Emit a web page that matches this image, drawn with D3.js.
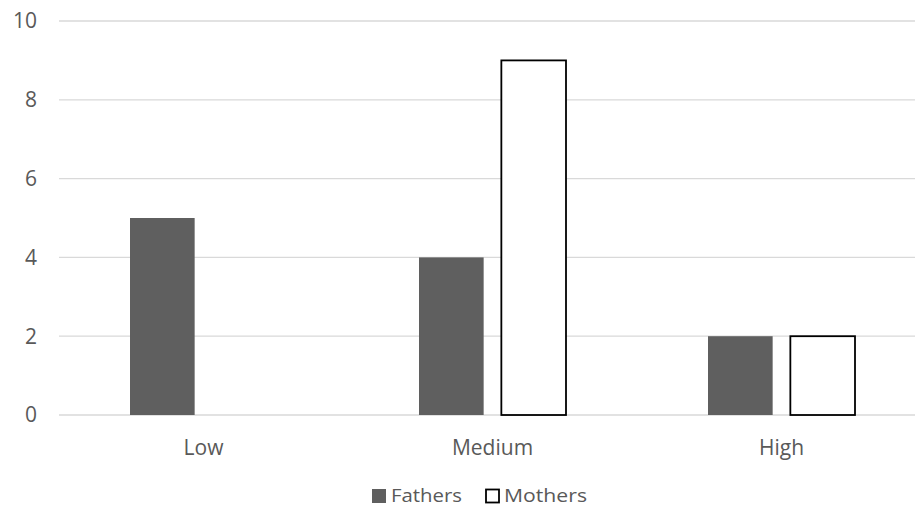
<!DOCTYPE html>
<html><head><meta charset="utf-8">
<script src="https://cdn.jsdelivr.net/npm/d3@7"></script>
<style>body{margin:0;background:#fff;overflow:hidden}svg{display:block}text{font-family:"Open Sans",sans-serif;fill:#595959}</style>
</head><body><svg id="c" width="915" height="508"></svg>
<script>
const categories = ["Low", "Medium", "High"];
const seriesNames = ["Fathers", "Mothers"];
const fathers = [5, 4, 2];
const mothers = [0, 9, 2];
const yTicks = [0, 2, 4, 6, 8, 10];

(function () {
const svg = d3.select("#c");
const mLeft = 59, mRight = 926, mTop = 21, mBottom = 415;
const x = d3.scaleBand().domain(categories).range([mLeft, mRight]).paddingInner(0).paddingOuter(0);
const y = d3.scaleLinear().domain([0, 10]).range([mBottom, mTop]);
const pairW = 147;
const sub = d3.scaleBand().domain(seriesNames).range([0, pairW]).paddingInner(0.215).paddingOuter(0);
const offset = (x.bandwidth() - pairW) / 2;

svg.append("g").selectAll("line").data(yTicks).join("line")
  .attr("x1", mLeft).attr("x2", mRight)
  .attr("y1", d => y(d)).attr("y2", d => y(d))
  .attr("stroke", "#d9d9d9").attr("stroke-width", 1.3);

svg.append("g").selectAll("text").data(yTicks).join("text")
  .attr("x", 37).attr("y", d => y(d)).attr("dy", "0.35em")
  .attr("text-anchor", "end").attr("font-size", 21).text(d => d);

const data = categories.map((c, i) => ({c, vals: [fathers[i], mothers[i]]}));
const g = svg.append("g");
data.forEach(d => {
  g.append("rect")
    .attr("x", x(d.c) + offset + sub("Fathers"))
    .attr("width", sub.bandwidth())
    .attr("y", y(d.vals[0])).attr("height", y(0) - y(d.vals[0]))
    .attr("fill", "#5f5f5f");
  if (d.vals[1] > 0) {
    g.append("rect")
      .attr("x", x(d.c) + offset + sub("Mothers"))
      .attr("width", sub.bandwidth())
      .attr("y", y(d.vals[1])).attr("height", y(0) - y(d.vals[1]))
      .attr("fill", "#fff").attr("stroke", "#000").attr("stroke-width", 1.8);
  }
});

svg.append("g").selectAll("text").data(categories).join("text")
  .attr("x", d => x(d) + x.bandwidth() / 2).attr("y", 455)
  .attr("text-anchor", "middle").attr("font-size", 21).text(d => d);

const lg = svg.append("g");
lg.append("rect").attr("x", 372).attr("y", 489).attr("width", 14).attr("height", 14).attr("fill", "#5f5f5f");
lg.append("text").attr("x", 391).attr("y", 502).attr("font-size", 19)
  .attr("textLength", 71).attr("lengthAdjust", "spacingAndGlyphs").text(seriesNames[0]);
lg.append("rect").attr("x", 486).attr("y", 489.5).attr("width", 13).attr("height", 13).attr("fill", "#fff").attr("stroke", "#000").attr("stroke-width", 1.8);
lg.append("text").attr("x", 504).attr("y", 502).attr("font-size", 19)
  .attr("textLength", 83).attr("lengthAdjust", "spacingAndGlyphs").text(seriesNames[1]);
})();
</script></body></html>
